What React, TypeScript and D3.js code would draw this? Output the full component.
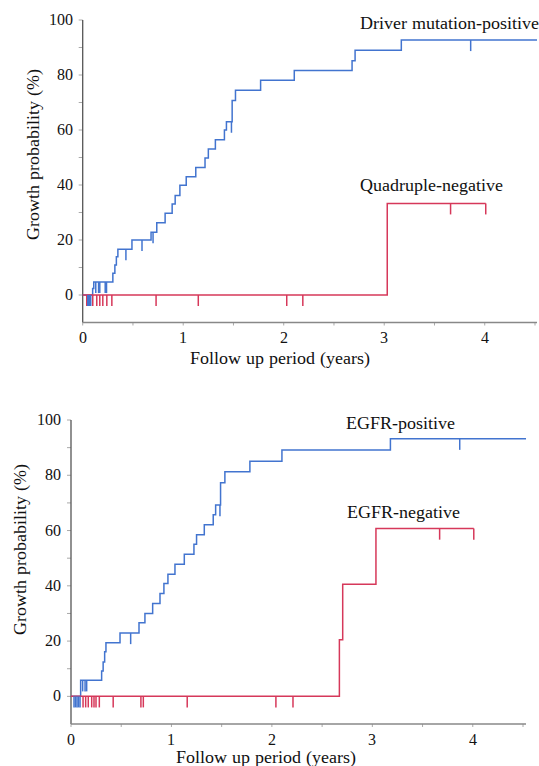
import React from 'react'
import * as d3 from 'd3'

// top panel: driver mutation-positive vs quadruple-negative (years, growth %)
const driverPosTimes = [0.099, 0.11, 0.3, 0.32, 0.335, 0.35, 0.49, 0.68, 0.737, 0.82, 0.89, 0.92, 0.967, 1.03, 1.125, 1.217, 1.25, 1.32, 1.41, 1.43, 1.487, 1.52, 1.77, 2.105, 2.68, 2.71, 3.17]
const driverPosValues = [2.4, 4.7, 7.9, 10.9, 13.9, 16.6, 20.0, 22.8, 26.3, 29.7, 33.1, 36.2, 39.9, 43.0, 46.4, 49.8, 53.1, 56.5, 60.0, 63.0, 70.7, 74.5, 78.1, 81.6, 85.2, 89.0, 92.7]
const driverPosCensored = [0.05, 0.06, 0.07, 0.08, 0.13, 0.158, 0.17, 0.224, 0.237, 0.43, 0.59, 0.7, 1.48, 3.86]
const driverPosEnd = 4.52

const quadNegTimes = [3.03]
const quadNegValues = [33.3]
const quadNegCensored = [0.04, 0.1, 0.14, 0.17, 0.2, 0.24, 0.29, 0.73, 1.15, 2.03, 2.19, 3.66, 4.01]
const quadNegEnd = 4.01

// bottom panel: EGFR-positive vs EGFR-negative
const egfrPosTimes = [0.096, 0.305, 0.32, 0.335, 0.348, 0.488, 0.677, 0.736, 0.813, 0.886, 0.925, 0.965, 1.035, 1.128, 1.224, 1.25, 1.327, 1.416, 1.44, 1.489, 1.532, 1.781, 2.1, 3.18]
const egfrPosValues = [5.8, 9.2, 12.4, 16.1, 19.4, 22.9, 26.6, 30.0, 33.6, 37.2, 40.8, 44.2, 47.8, 51.4, 55.0, 58.5, 62.1, 65.7, 69.2, 77.3, 81.3, 85.1, 89.1, 93.2]
const egfrPosCensored = [0.03, 0.045, 0.06, 0.075, 0.09, 0.116, 0.14, 0.156, 0.594, 1.483, 3.87]
const egfrPosEnd = 4.53

const egfrNegTimes = [2.672, 2.705, 3.036]
const egfrNegValues = [20.5, 40.6, 60.7]
const egfrNegCensored = [0.12, 0.146, 0.172, 0.206, 0.229, 0.249, 0.282, 0.42, 0.696, 0.72, 1.157, 2.04, 2.21, 3.67, 4.01]
const egfrNegEnd = 4.01

const yTicks = d3.range(0, 101, 10)
const xTicks = d3.range(0, 4.51, 0.5)

const BLUE = '#4274cf'
const RED = '#d6385a'
const FONT = "ChartSerif, 'Liberation Serif', 'DejaVu Serif', serif"
const FONT_FACE = "@font-face { font-family: 'ChartSerif'; src: local('Liberation Serif'), local('LiberationSerif'), local('LiberationSerif-Regular'); }"

function valueAt(times, values, t) {
    let v = 0
    times.forEach((tt, i) => {
        if (tt <= t) v = values[i]
    })
    return v
}

const panels = [
    {
        x0: 82.7, x1: 535, yTop: 20, yBottom: 322.5, axisEnd: 4.52,
        yTitle: [33, 154], xTitle: [280, 364],
        series: [
            { times: driverPosTimes, values: driverPosValues, censored: driverPosCensored, end: driverPosEnd, color: BLUE, label: 'Driver mutation-positive', lx: 360, ly: 29 },
            { times: quadNegTimes, values: quadNegValues, censored: quadNegCensored, end: quadNegEnd, color: RED, label: 'Quadruple-negative', lx: 360, ly: 191 },
        ],
    },
    {
        x0: 71, x1: 523, yTop: 420, yBottom: 724, axisEnd: 4.53,
        yTitle: [20, 549], xTitle: [266, 763],
        series: [
            { times: egfrPosTimes, values: egfrPosValues, censored: egfrPosCensored, end: egfrPosEnd, color: BLUE, label: 'EGFR-positive', lx: 346, ly: 429 },
            { times: egfrNegTimes, values: egfrNegValues, censored: egfrNegCensored, end: egfrNegEnd, color: RED, label: 'EGFR-negative', lx: 347, ly: 518 },
        ],
    },
]

function Panel({ p }) {
    const x = d3.scaleLinear().domain([0, 4.5]).range([p.x0, p.x1])
    const y = d3.scaleLinear().domain([-10, 100]).range([p.yBottom, p.yTop])
    const line = d3.line()
        .x(d => x(d[0]))
        .y(d => y(d[1]))
        .curve(d3.curveStepAfter)
    const base = y(-10)

    return (
        <g>
            {/* y axis */}
            {yTicks.map(t => (
                <g key={'y' + t}>
                    <line x1={x(0) - 4} x2={x(0)} y1={y(t)} y2={y(t)} stroke="#aaa" />
                    {t % 20 === 0 && (
                        <text x={x(0) - 10} y={y(t)} dy="0.32em" textAnchor="end" fill="#111"
                            fontFamily="Liberation Serif" style={{ fontFamily: FONT, fontSize: 16 }}>{String(t)}</text>
                    )}
                </g>
            ))}
            {/* x axis */}
            {xTicks.map(t => (
                <g key={'x' + t}>
                    <line x1={x(t)} x2={x(t)} y1={base} y2={base + 3} stroke="#aaa" />
                    {Number.isInteger(t) && (
                        <text x={x(t)} y={base + 9.5} dy="0.71em" textAnchor="middle" fill="#111"
                            fontFamily="Liberation Serif" style={{ fontFamily: FONT, fontSize: 16 }}>{String(t)}</text>
                    )}
                </g>
            ))}
            <line x1={x(0)} x2={x(0)} y1={base} y2={y(100)} stroke="#555" strokeWidth={1.3} />
            <line x1={x(0)} x2={x(p.axisEnd)} y1={base} y2={base} stroke="#888" strokeWidth={1.3} />

            {p.series.map(s => {
                const pts = [[0, 0]]
                s.times.forEach((t, i) => pts.push([t, s.values[i]]))
                pts.push([s.end, s.values[s.values.length - 1]])
                return <path key={s.label} d={line(pts)} fill="none" stroke={s.color} strokeWidth={1.5} />
            })}

            {/* censor marks, red first so the early blue ones stay visible */}
            {p.series.slice().reverse().map(s => (
                <g key={'c' + s.label}>
                    {s.censored.map((c, i) => {
                        const v = valueAt(s.times, s.values, c)
                        return <line key={i} x1={x(c)} x2={x(c)} y1={y(v)} y2={y(v - 4)} stroke={s.color} strokeWidth={1.5} />
                    })}
                </g>
            ))}

            {p.series.map(s => (
                <text key={'l' + s.label} x={s.lx} y={s.ly} fill="#111" fontFamily="Liberation Serif"
                    style={{ fontFamily: FONT, fontSize: 17.5 }}>{s.label}</text>
            ))}

            <text transform={`translate(${p.yTitle[0]},${p.yTitle[1]}) rotate(-90)`} textAnchor="middle" dy="0.35em"
                fill="#111" fontFamily="Liberation Serif" style={{ fontFamily: FONT, fontSize: 17.5 }}>Growth probability (%)</text>
            <text x={p.xTitle[0]} y={p.xTitle[1]} textAnchor="middle" fill="#111" fontFamily="Liberation Serif"
                style={{ fontFamily: FONT, fontSize: 17.5 }}>Follow up period (years)</text>
        </g>
    )
}

export default function App() {
    return (
        <div style={{ position: 'absolute', left: 0, top: 0, fontFamily: "'Liberation Serif', serif" }}>
            <svg width={539} height={766} fontFamily="Liberation Serif" style={{ display: 'block', background: '#fff' }}>
                <style>{FONT_FACE}</style>
                {panels.map((p, i) => <Panel key={i} p={p} />)}
            </svg>
        </div>
    )
}
